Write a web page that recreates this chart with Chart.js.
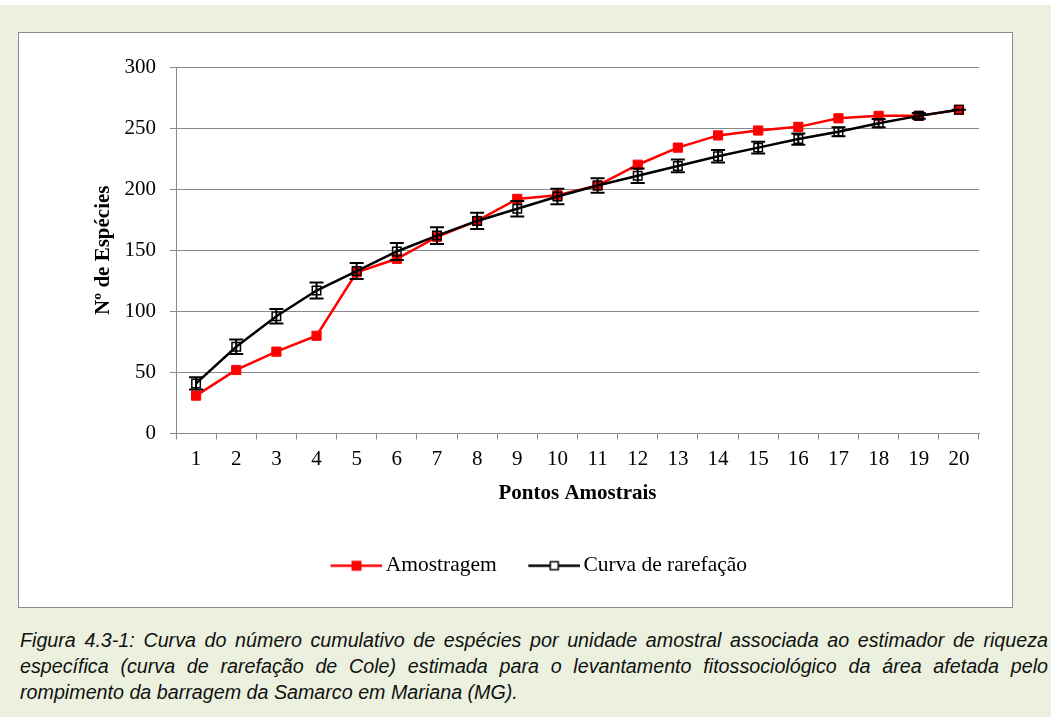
<!DOCTYPE html>
<html lang="pt">
<head>
<meta charset="UTF-8">
<title>Curva de rarefação</title>
<script src="https://cdn.jsdelivr.net/npm/chart.js"></script>
<style>
  body { margin: 0; background: #fff; }
  #panel { position: absolute; left: 0; top: 5px; width: 1051px; height: 712px; background: #ebf1de; }
  #box { position: absolute; left: 18px; top: 32px; width: 993px; height: 574px; border: 1px solid #8c8c8c; background: #fff; }
  #chart { position: absolute; left: 58px; top: 0; }
  .cap { position: absolute; left: 20px; width: 1028px; font: italic 19.7px "Liberation Sans", Arial, sans-serif; color: #111; line-height: 26px; white-space: nowrap; }
  .just { text-align: justify; text-align-last: justify; white-space: normal; }
</style>
</head>
<body>
<div id="panel"></div>
<div id="box"><canvas id="chart" width="922" height="574"></canvas></div>
<div class="cap just" style="top:627px">Figura 4.3-1: Curva do número cumulativo de espécies por unidade amostral associada ao estimador de riqueza</div>
<div class="cap just" style="top:653px">específica (curva de rarefação de Cole) estimada para o levantamento fitossociológico da área afetada pelo</div>
<div class="cap" style="top:679px">rompimento da barragem da Samarco em Mariana (MG).</div>

<script>
  // data
  const pontos = ['1','2','3','4','5','6','7','8','9','10','11','12','13','14','15','16','17','18','19','20'];
  const amostragem = [31, 52, 67, 80, 132, 143, 161, 174, 192, 195, 203, 220, 234, 244, 248, 251, 258, 260, 260, 265];
  const rarefacao = [41, 71, 96, 117, 133, 149, 162, 174, 184, 194, 203, 211, 219, 227, 234, 241, 247, 254, 260, 265];
  const erro = [5, 6, 6, 6.5, 6.5, 7, 6.8, 6.7, 6.4, 6.3, 5.9, 6, 5.2, 5.1, 4.8, 4.6, 3.7, 3.4, 2.3, 0];
  const yTicks = [0, 50, 100, 150, 200, 250, 300];

  const gridGray = '#8a8a8a';
  const serif = '"Liberation Serif", "Times New Roman", serif';

  // legend symbol: line with marker in the middle
  function legendIcon(color, filled) {
    const c = document.createElement('canvas');
    c.width = 81; c.height = 21;
    const g = c.getContext('2d');
    g.strokeStyle = color;
    g.lineWidth = 2.5;
    g.beginPath();
    g.moveTo(29, 10.5); g.lineTo(81, 10.5);
    g.stroke();
    if (filled) {
      g.fillStyle = color;
      g.fillRect(50, 5.5, 10, 10);
    } else {
      g.fillStyle = '#fff';
      g.fillRect(51, 6.5, 8, 8);
      g.lineWidth = 1.5;
      g.strokeRect(51, 6.5, 8, 8);
    }
    return c;
  }

  // error bars for the rarefaction curve
  const errorBars = {
    id: 'errorBars',
    afterDatasetDraw(chart, args) {
      if (args.index !== 1) return;
      const ctx = chart.ctx;
      const x = chart.scales.x, y = chart.scales.y;
      ctx.save();
      ctx.strokeStyle = '#000';
      ctx.lineWidth = 2;
      rarefacao.forEach((v, i) => {
        const px = x.getPixelForValue(i);
        const top = y.getPixelForValue(v + erro[i]);
        const bot = y.getPixelForValue(v - erro[i]);
        ctx.beginPath();
        ctx.moveTo(px, top); ctx.lineTo(px, bot);
        ctx.moveTo(px - 7, top); ctx.lineTo(px + 7, top);
        ctx.moveTo(px - 7, bot); ctx.lineTo(px + 7, bot);
        ctx.stroke();
      });
      ctx.restore();
    }
  };

  const ctx = document.getElementById('chart').getContext('2d');
  new Chart(ctx, {
    type: 'line',
    data: {
      labels: pontos,
      datasets: [{
        label: 'Amostragem',
        data: amostragem,
        borderColor: '#ff0000',
        backgroundColor: '#ff0000',
        borderWidth: 2.5,
        pointStyle: 'rect',
        pointRadius: 6.5,
        pointBorderWidth: 1,
        tension: 0,
        order: 2
      }, {
        label: 'Curva de rarefação',
        data: rarefacao,
        borderColor: '#000',
        backgroundColor: 'rgba(0,0,0,0)',
        borderWidth: 2.5,
        pointStyle: 'rect',
        pointRadius: 6,
        pointBorderWidth: 1.5,
        tension: 0,
        order: 1
      }]
    },
    options: {
      responsive: false,
      animation: false,
      devicePixelRatio: 1,
      layout: { padding: { top: 34, right: 20, bottom: 20.5, left: 0 } },
      plugins: {
        tooltip: { enabled: false },
        legend: {
          position: 'bottom',
          labels: {
            usePointStyle: true,
            pointStyleWidth: 66,
            padding: 10,
            color: '#000',
            font: { family: serif, size: 21.5 },
            generateLabels(chart) {
              return chart.data.datasets.map((ds, i) => ({
                text: ds.label,
                fillStyle: 'transparent',
                strokeStyle: 'transparent',
                lineWidth: 0,
                hidden: false,
                datasetIndex: i,
                fontColor: '#000',
                pointStyle: legendIcon(ds.borderColor, i === 0)
              }));
            }
          }
        }
      },
      scales: {
        x: {
          offset: true,
          grid: { display: true, drawOnChartArea: false, offset: true, tickLength: 6, color: gridGray },
          border: { color: gridGray, width: 1 },
          ticks: { color: '#000', padding: 7, font: { family: serif, size: 21 } },
          title: {
            display: true,
            text: 'Pontos Amostrais',
            color: '#000',
            font: { family: serif, size: 21, weight: 'bold' },
            padding: { top: 0, bottom: 39 }
          },
          afterFit(scale) { scale.height = 111.5; }
        },
        y: {
          min: 0,
          max: 300,
          afterBuildTicks(scale) { scale.ticks = yTicks.map(v => ({ value: v })); },
          grid: { color: gridGray, lineWidth: 1, tickLength: 6 },
          border: { color: gridGray, width: 1 },
          ticks: { color: '#000', padding: 14, font: { family: serif, size: 21 } },
          title: {
            display: true,
            text: 'Nº de Espécies',
            color: '#000',
            font: { family: serif, size: 21, weight: 'bold' },
            padding: { top: 14.4, bottom: 0 }
          },
          afterFit(scale) { scale.width = 99; }
        }
      }
    },
    plugins: [errorBars]
  });
</script>
</body>
</html>
